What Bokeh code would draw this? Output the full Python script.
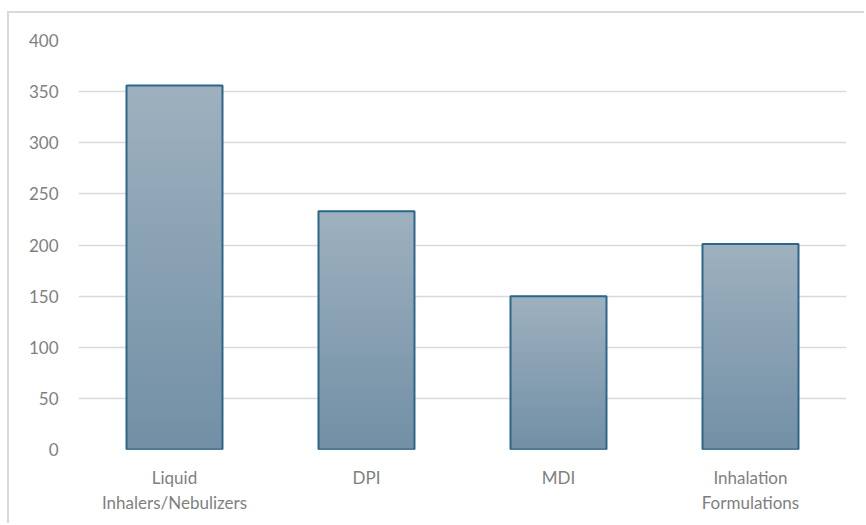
from bokeh.plotting import figure
from bokeh.models import CustomJSTickFormatter
from bokeh.embed import file_html
from bokeh.resources import INLINE

categories = ["Liquid Inhalers/Nebulizers", "DPI", "MDI", "Inhalation Formulations"]
labels = ["Liquid\nInhalers/Nebulizers", "DPI", "MDI", "Inhalation\nFormulations"]
values = [356, 233, 150, 201]

TOP_RGB = (159, 177, 191)
BOT_RGB = (114, 144, 166)
N = 60

p = figure(x_range=categories, y_range=(0, 400), width=857, height=512,
           output_backend="svg", toolbar_location=None,
           min_border_left=69, min_border_top=27, min_border_right=20, min_border_bottom=76)
p.margin = (11, 0, 0, 7)
p.styles = {"border-left": "2px solid #d9d9d9", "border-top": "2px solid #d9d9d9"}
p.outline_line_color = None

# gradient: layered rects, tallest (lightest) first, shorter (darker) on top
xs, tops, cols = [], [], []
for i in range(N, 0, -1):
    f = (i - 0.5) / N
    r = int(BOT_RGB[0] + (TOP_RGB[0] - BOT_RGB[0]) * f)
    g = int(BOT_RGB[1] + (TOP_RGB[1] - BOT_RGB[1]) * f)
    b = int(BOT_RGB[2] + (TOP_RGB[2] - BOT_RGB[2]) * f)
    for c, v in zip(categories, values):
        xs.append(c)
        tops.append(v * i / N)
        cols.append("#%02x%02x%02x" % (r, g, b))

p.vbar(x=xs, bottom=0, top=tops, width=0.5, fill_color=cols, line_color=None)
p.vbar(x=categories, top=values, width=0.5, fill_color=None, line_color="#2a678c", line_width=2)

p.xgrid.grid_line_color = None
p.ygrid.grid_line_color = "#d9d9d9"
p.ygrid.grid_line_width = 1.5
p.yaxis.ticker = [0, 50, 100, 150, 200, 250, 300, 350, 400]

for ax in (p.xaxis[0], p.yaxis[0]):
    ax.axis_line_color = None
    ax.major_tick_line_color = None
    ax.minor_tick_line_color = None
    ax.major_label_text_color = "#7f7f7f"
    ax.major_label_text_font = "Lato"
    ax.major_label_text_font_size = "17px"

p.yaxis.major_label_standoff = 14
p.xaxis[0].major_label_standoff = 11
p.xaxis[0].formatter = CustomJSTickFormatter(
    args=dict(cats=categories, labs=labels),
    code="const i = cats.indexOf(tick); return i >= 0 ? labs[i] : tick;")

open("out.html", "w").write(file_html(p, INLINE))
